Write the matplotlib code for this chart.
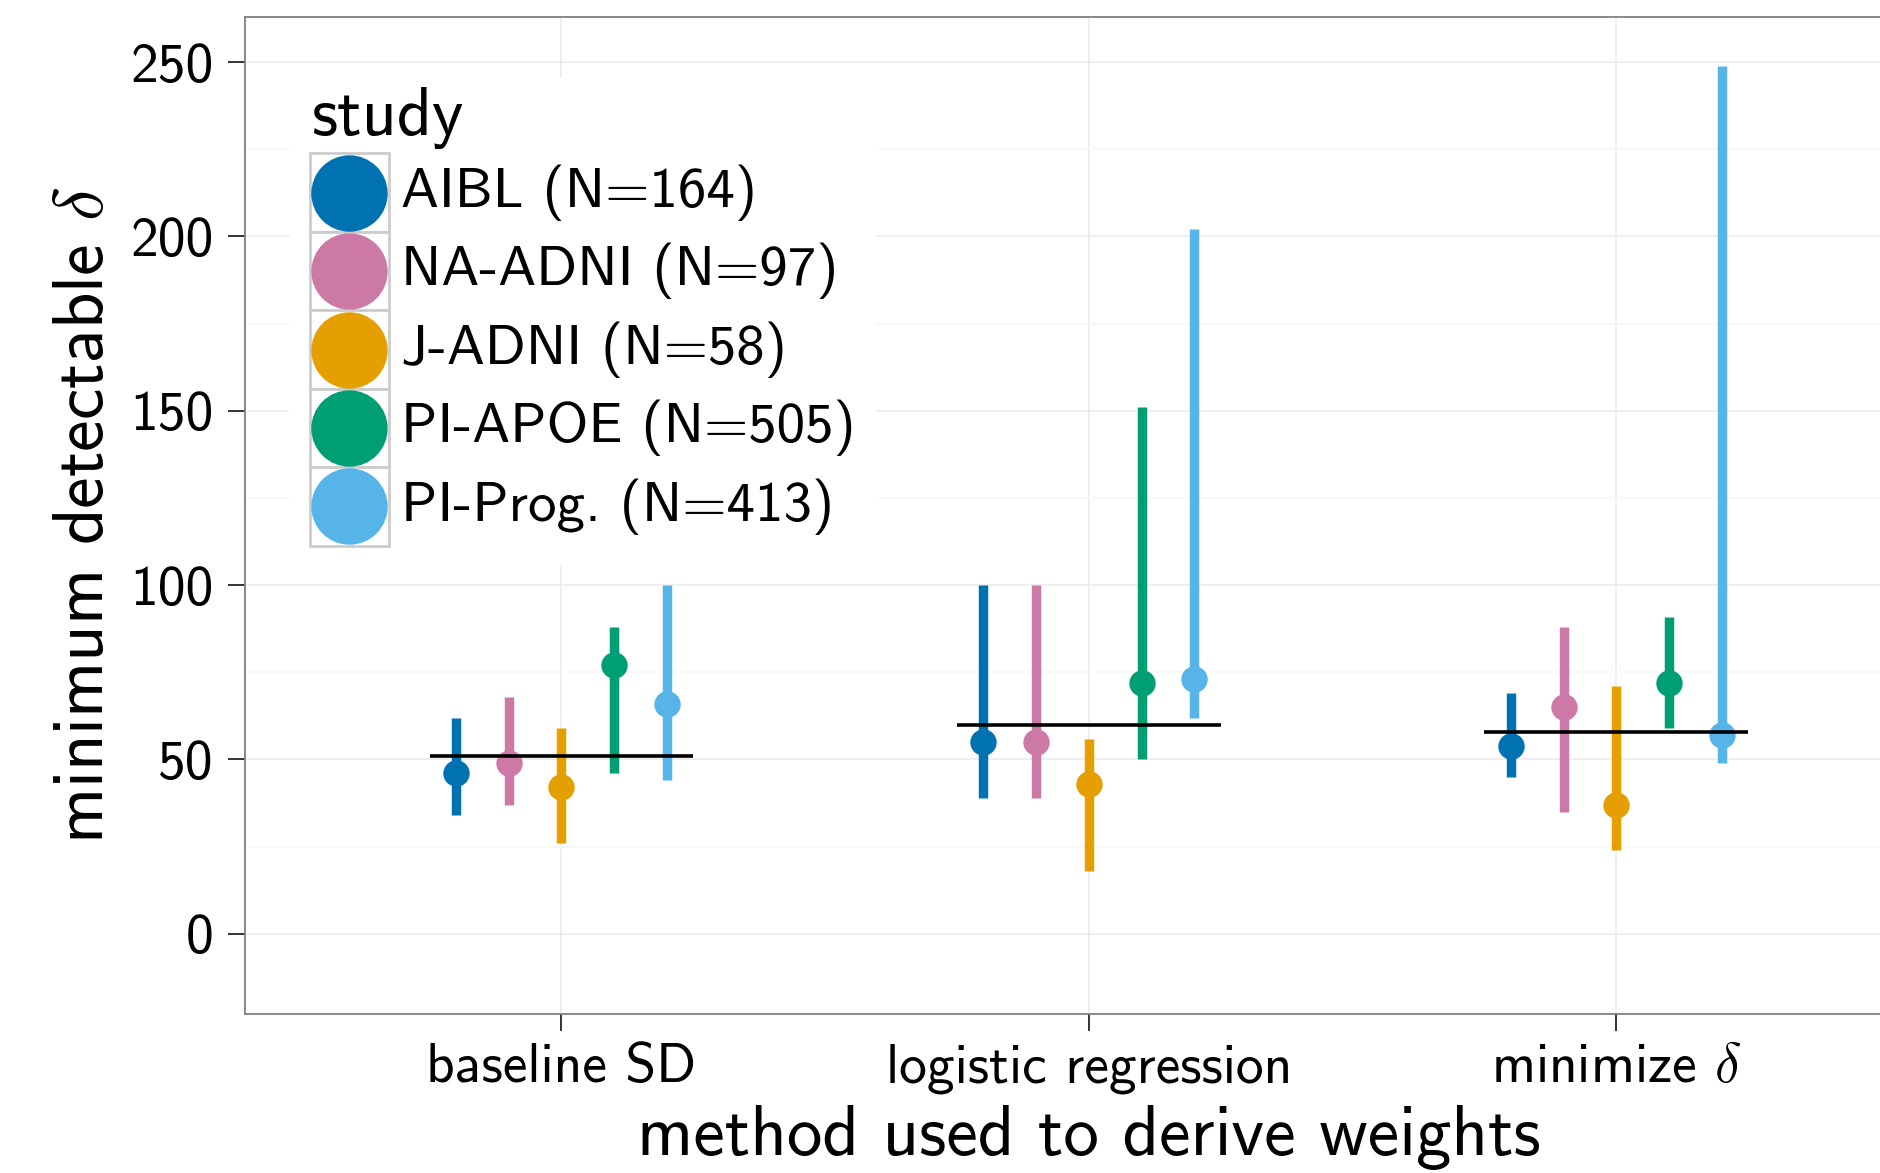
import matplotlib
matplotlib.use("Agg")
import matplotlib.pyplot as plt
import matplotlib.patches as mpatches
import numpy as np

plt.rcParams["font.family"] = ["cmss10", "DejaVu Sans"]
plt.rcParams["mathtext.fontset"] = "cm"
plt.rcParams["axes.unicode_minus"] = False

# --- data ---
methods = ["baseline SD", "logistic regression", r"minimize $\delta$"]
studies = ["AIBL (N=164)", "NA-ADNI (N=97)", "J-ADNI (N=58)",
           "PI-APOE (N=505)", "PI-Prog. (N=413)"]
colors = ["#0072B2", "#CC79A7", "#E69F00", "#009E73", "#56B4E9"]

# rows = method, cols = study
est = [[46, 49, 42, 77, 66],
       [55, 55, 43, 72, 73],
       [54, 65, 37, 72, 57]]
lower = [[34, 37, 26, 46, 44],
         [39, 39, 18, 50, 62],
         [45, 35, 24, 59, 49]]
upper = [[62, 68, 59, 88, 100],
         [100, 100, 56, 151, 202],
         [69, 88, 71, 91, 249]]
pooled = [51, 60, 58]

yticks = [0, 50, 100, 150, 200, 250]
yminor = [25, 75, 125, 175, 225]

# --- figure ---
W, H = 1881, 1173
fig = plt.figure(figsize=(W / 100, H / 100), dpi=100)
fig.patch.set_facecolor("white")
# axes runs past the right edge (reference is cropped there)
ax = fig.add_axes([245 / W, 1 - 1014 / H, 1687.7 / W, (1014 - 16.8) / H])

x = np.arange(1, len(methods) + 1)
n = len(studies)
dodge = 0.1

for j in range(n):
    xs = x + (j - (n - 1) / 2) * dodge
    lo = [lower[i][j] for i in range(len(methods))]
    hi = [upper[i][j] for i in range(len(methods))]
    md = [est[i][j] for i in range(len(methods))]
    ax.vlines(xs, lo, hi, color=colors[j], lw=6.8, zorder=3)
    ax.plot(xs, md, "o", color=colors[j], ms=19, mec="none", zorder=4)

ax.hlines(pooled, x - 0.25, x + 0.25, color="black", lw=2.6, zorder=5)

ax.set_xlim(0.4, 3.6)
ax.set_ylim(-23, 263)
ax.set_xticks(x)
ax.set_xticklabels(methods)
ax.set_yticks(yticks)
ax.set_yticks(yminor, minor=True)
ax.tick_params(axis="both", which="major", labelsize=40, length=12,
               width=1.4, color="#333333")
ax.tick_params(axis="y", which="major", pad=10.5)
ax.tick_params(axis="x", which="major", pad=9)
ax.tick_params(axis="y", which="minor", length=0)

ax.set_axisbelow(True)
ax.grid(axis="y", which="major", color="#ebebeb", lw=1.1)
ax.grid(axis="y", which="minor", color="#f7f7f7", lw=1.1)
ax.grid(axis="x", which="major", color="#ebebeb", lw=1.1)

for s in ax.spines.values():
    s.set_color("#7f7f7f")
    s.set_linewidth(1.3)

ax.set_xlabel("method used to derive weights", fontsize=51, labelpad=8)
ax.set_ylabel(r"minimum detectable $\delta$", fontsize=51, labelpad=10)

# --- legend drawn by hand (ggplot style with key boxes) ---
ax.add_patch(mpatches.Rectangle((0.026, 0.4513), 0.348, 0.4873,
                                transform=ax.transAxes, facecolor="white",
                                edgecolor="none", zorder=6))
ax.text(0.0391, 0.8815, "study", transform=ax.transAxes, fontsize=49,
        va="baseline", ha="left", zorder=8)
key_x, key_w = 0.0385, 0.0468
key_h = 78.4 / 997.2
top0 = (1014 - 153.5) / 997.2
for j in range(n):
    y0 = top0 - (j + 1) * key_h
    ax.add_patch(mpatches.Rectangle((key_x, y0), key_w, key_h,
                                    transform=ax.transAxes, facecolor="white",
                                    edgecolor="#cccccc", lw=2, zorder=7))
    ax.plot(key_x + key_w / 2, y0 + key_h / 2, "o", color=colors[j], ms=55,
            mec="none", transform=ax.transAxes, clip_on=False, zorder=8)
    ax.text(0.0924, y0 + key_h / 2, studies[j], transform=ax.transAxes,
            fontsize=41, va="center", ha="left", zorder=8)

fig.savefig("out.png", dpi=100, facecolor="white")
